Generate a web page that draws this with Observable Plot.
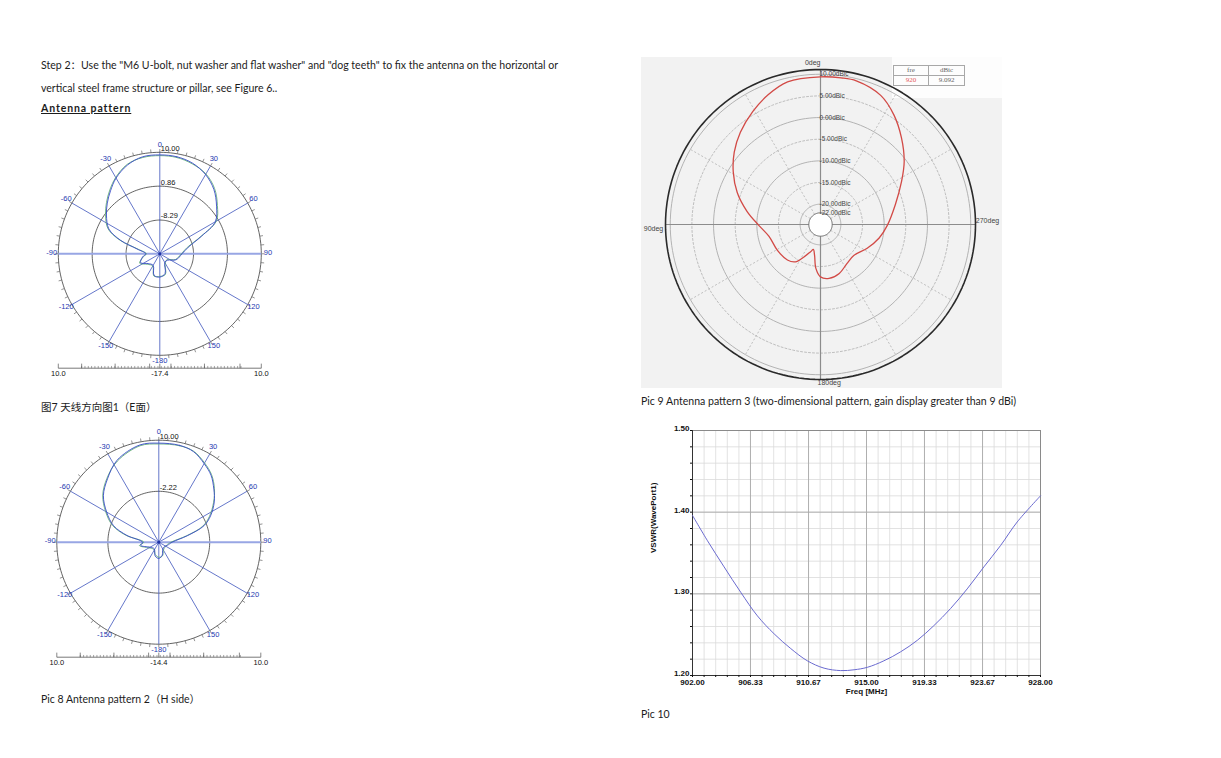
<!DOCTYPE html>
<html><head><meta charset="utf-8">
<script src="https://cdn.jsdelivr.net/npm/d3@7"></script>
<script src="https://cdn.jsdelivr.net/npm/@observablehq/plot@0.6"></script>
<style>
html,body{margin:0;padding:0;background:#fff}
body{width:1221px;height:758px;position:relative;overflow:hidden;font-family:Lato,"Noto Sans CJK SC",sans-serif;color:#1c1c1c}
.t{position:absolute;white-space:nowrap;line-height:12px}
.abs{position:absolute}
table.lg{border-collapse:collapse;font-family:"Liberation Serif",serif;font-size:7px;color:#666}
table.lg td{border:1px solid #a8a8a8;height:9px;padding:0;text-align:center;line-height:9px}
</style></head><body>
<script>
// ---------- texts ----------
const stepLine1 = 'Step 2：Use the "M6 U-bolt, nut washer and flat washer" and "dog teeth" to fix the antenna on the horizontal or';
const stepLine2 = 'vertical steel frame structure or pillar, see Figure 6..';
const heading = 'Antenna pattern';
const caption7 = '图7  天线方向图1（E面）';
const caption8 = 'Pic 8 Antenna pattern 2（H side）';
const caption9 = 'Pic 9 Antenna pattern 3 (two-dimensional pattern, gain display greater than 9 dBi)';
const caption10 = 'Pic 10';

// ---------- Pic 7 : E plane ----------
const spokeLabels = ["0","30","60","90","120","150","-180","-150","-120","-90","-60","-30"];
const e7Angles = [0,10,20,30,40,50,60,67,77,90,110,130,150,165,180,195,210,230,245,260,270,282,289,296,306,314,322,330,340,350];
const e7Blue  = [9.3,9.2,8.6,7.3,5.3,2.6,-0.1,-5.1,-9.5,-11.4,-12.7,-14.7,-14.7,-11.9,-11.1,-11.4,-13.8,-13.3,-11.7,-12.7,-13.6,-11.1,-6.2,-2.1,0.4,2.3,4.2,6.2,8.1,9.2];
const e7Green = [9.1,9.0,8.4,7.5,5.6,2.9,0.2,-5.3,-9.8,-11.6,-12.9,-14.9,-14.5,-11.6,-11.3,-11.2,-13.6,-13.0,-11.4,-12.9,-13.8,-11.4,-5.9,-1.8,0.7,2.6,4.5,6.4,8.3,9.0];
const e7Rings = [10, 0.86, -8.29];
const e7RingLabels = ["10.00","0.86","-8.29"];
const e7ScaleLabels = ["10.0","-17.4","10.0"];

// ---------- Pic 8 : H plane ----------
const h8Angles = [0,12,21,30,38,46,54,63,70,77,90,110,130,150,165,180,195,215,240,260,270,282,290,300,310,321,333,349];
const h8Blue  = [9.3,9.3,8.8,7.3,5.9,3.9,2.0,-0.5,-2.9,-7.3,-11.2,-12.2,-12.7,-12.5,-11.2,-10.5,-11.0,-12.5,-12.0,-10.0,-10.5,-6.6,-2.9,0.0,2.9,5.1,7.6,9.3];
const h8Green = [9.1,9.2,8.9,7.5,6.1,4.1,1.8,-0.8,-3.2,-7.6,-11.5,-12.4,-12.5,-12.2,-11.0,-10.8,-11.3,-12.3,-11.7,-9.7,-10.8,-6.3,-2.6,0.3,3.1,5.3,7.4,9.1];
const h8Rings = [10, -2.22];
const h8RingLabels = ["10.00","-2.22"];
const h8ScaleLabels = ["10.0","-14.4","10.0"];

// ---------- Pic 9 : 2D pattern (angle counter-clockwise from top) ----------
const p9Angles = [0,13,22,31,41,50,59,69,80,91,103,121,137,146,153,160,164,169,174,180,189,201,214,227,243,257,269,285,298,307,317,326,335,346,352];
const p9Gain   = [9.4,9.1,7.6,5.7,3.5,1.3,-1.2,-4.1,-7.5,-10.5,-12.5,-13.1,-13.5,-14.3,-16.3,-18.0,-18.7,-17.5,-14.5,-12.6,-12.1,-12.6,-13.8,-14.2,-12.6,-10.8,-9.3,-6.8,-3.5,-0.5,2.7,5.7,8.2,9.5,9.5];
const p9Rings = [10,5,0,-5,-10,-15,-20,-22];
const p9RingLabels = ["10.00dBic","5.00dBic","0.00dBic","-5.00dBic","-10.00dBic","-15.00dBic","-20.00dBic","-22.00dBic"];
const p9AxisLabels = ["0deg","90deg","180deg","270deg"];
const p9LegendHead = ["fre","dBic"];
const p9LegendRow = ["920","9.092"];

// ---------- Pic 10 : VSWR ----------
const freq = [902,903.12,904.36,905.6,906.85,908.1,909.34,910.58,911.83,913.07,914.07,915.06,916.3,917.55,918.79,920.03,921.28,922.52,923.77,925.01,926.26,928];
const vswr = [1.396,1.365,1.333,1.302,1.273,1.251,1.233,1.218,1.209,1.206,1.207,1.210,1.218,1.229,1.243,1.261,1.282,1.306,1.333,1.359,1.388,1.420];
const xTicks = [902,906.33,910.67,915,919.33,923.67,928];
const xTickLabels = ["902.00","906.33","910.67","915.00","919.33","923.67","928.00"];
const yTicks = [1.2,1.3,1.4,1.5];
const yTickLabels = ["1.20","1.30","1.40","1.50"];
const yTitle = "VSWR(WavePort1)";
const xTitle = "Freq [MHz]";

// ---------- helpers ----------
function put(el, left, top){ el.style.position="absolute"; el.style.left=left+"px"; el.style.top=top+"px"; document.body.appendChild(el); return el; }
function text(str, left, top, css){ const d=document.createElement("div"); d.className="t"; d.textContent=str; Object.assign(d.style, css||{}); return put(d,left,top); }
const rad = Math.PI/180;

function antenna(o){
  const {left, top, width, height, cx, cy, R, minDb, maxDb, rings, ringLabels, angles, blue, green, scaleLabels, barPx} = o;
  const norm = v => (v - minDb)/(maxDb - minDb);
  const P = (a, r) => [r*Math.sin(a*rad), r*Math.cos(a*rad)];
  const lx = cx-left, ly = cy-top;
  const barY = -barPx/R;
  const ringPts = rings.flatMap((v,i)=> d3.range(0,361,2).map(a=>({i, p:P(a,norm(v))})));
  const curve = arr => angles.map((a,i)=>P(a, norm(arr[i])));
  const spokes = d3.range(0,360,30);
  const rimTicks = d3.range(0,360,5);
  const barMinor = d3.range(-0.77, 0.80, 0.0327);
  const barMajor = [-1,-0.77,-0.44,-0.1,0,0.11,0.44,0.79,1];
  const svg = Plot.plot({
    width, height, margin:0,
    x:{domain:[-lx/R,(width-lx)/R], axis:null},
    y:{domain:[-(height-ly)/R, ly/R], axis:null},
    style:{fontFamily:"'Liberation Sans',Arial,sans-serif", fontSize:"7.5px", background:"transparent", overflow:"visible"},
    marks:[
      Plot.line(ringPts,{x:d=>d.p[0], y:d=>d.p[1], z:"i", stroke:"#3c3c3c", strokeWidth:0.8}),
      Plot.link(rimTicks,{x1:a=>P(a,1)[0], y1:a=>P(a,1)[1], x2:a=>P(a,1.032)[0], y2:a=>P(a,1.032)[1], stroke:"#666", strokeWidth:0.7}),
      Plot.link(spokes.filter(a=>a%180!==90),{x1:()=>0,y1:()=>0,x2:a=>P(a,1)[0],y2:a=>P(a,1)[1], stroke:"#5468c4", strokeWidth:0.9}),
      Plot.link([90],{x1:()=>-1,x2:()=>1,y1:()=>0,y2:()=>0, stroke:"#98a6e4", strokeWidth:2}),
      Plot.line(curve(green),{x:d=>d[0],y:d=>d[1],curve:"catmull-rom-closed",stroke:"#62ad78",strokeWidth:0.9}),
      Plot.line(curve(blue),{x:d=>d[0],y:d=>d[1],curve:"catmull-rom-closed",stroke:"#3a4cc8",strokeWidth:0.9}),
      Plot.dot([0],{x:()=>0,y:()=>0,r:1.6,fill:"#1f33a8"}),
      Plot.text(spokes,{x:a=>P(a,1.065)[0], y:a=>P(a,1.065)[1], text:(a,i)=>spokeLabels[i], fill:"#2438b0", dy:-1.5}),
      Plot.text(rings,{x:()=>0, y:v=>norm(v), text:(v,i)=>ringLabels[i], textAnchor:"start", dx:1, dy:-4, fill:"#111"}),
      Plot.link([0],{x1:()=>-1,x2:()=>1,y1:()=>barY,y2:()=>barY, stroke:"#555", strokeWidth:0.8}),
      Plot.link(barMinor,{x1:d=>d,x2:d=>d,y1:()=>barY,y2:()=>barY+0.022, stroke:"#666", strokeWidth:0.6}),
      Plot.link(barMajor,{x1:d=>d,x2:d=>d,y1:()=>barY,y2:()=>barY+0.045, stroke:"#555", strokeWidth:0.7}),
      Plot.text([-1,0,1],{x:d=>d, y:()=>barY, dy:5.5, text:(d,i)=>scaleLabels[i], fill:"#111"})
    ]
  });
  return put(svg, left, top);
}

// ---------- page text ----------
text(stepLine1, 41, 59, {fontSize:"10.55px"});
text(stepLine2, 41, 82, {fontSize:"10.55px"});
text(heading, 41, 102, {fontSize:"10.5px", fontWeight:"bold", textDecoration:"underline", letterSpacing:"0.9px"});
text(caption7, 41, 401, {fontSize:"10.5px"});
text(caption8, 41, 693, {fontSize:"10.5px"});
text(caption9, 641, 395, {fontSize:"10.55px"});
text(caption10, 641, 708, {fontSize:"10.5px"});

// ---------- Pic 7 & 8 ----------
antenna({left:40, top:140, width:240, height:245, cx:159.3, cy:253.3, R:101.5, minDb:-17.4, maxDb:10,
  rings:e7Rings, ringLabels:e7RingLabels, angles:e7Angles, blue:e7Blue, green:e7Green, scaleLabels:e7ScaleLabels, barPx:114.4});
antenna({left:40, top:428, width:240, height:245, cx:158.3, cy:541.7, R:102, minDb:-14.4, maxDb:10,
  rings:h8Rings, ringLabels:h8RingLabels, angles:h8Angles, blue:h8Blue, green:h8Green, scaleLabels:h8ScaleLabels, barPx:115});

// ---------- Pic 9 ----------
(function(){
  const left=641, top=57, width=361, height=331, cx=820, cy=224, Rout=155;
  const bg = document.createElement("div"); Object.assign(bg.style,{width:width+"px",height:height+"px",background:"#f2f2f2"}); put(bg,left,top);
  const wp = document.createElement("div"); Object.assign(wp.style,{width:"110px",height:"41px",background:"#fdfdfd"}); put(wp,892,57);
  const r9 = v => 11.7 + (v + 22) * 4.33;
  const Q = (a, r) => [-r*Math.sin(a*rad), r*Math.cos(a*rad)];
  const circ = (r) => d3.range(0,361,2).map(a=>Q(a,r));
  const solid = [10,0,-10,-20], dashed = [5,-5,-15];
  const ringPts = (vals) => vals.flatMap((v,i)=>circ(r9(v)).map(p=>({i,p})));
  const spokes = [30,60,120,150,210,240,300,330];
  const svg = Plot.plot({
    width, height, margin:0,
    x:{domain:[left-cx, left+width-cx], axis:null},
    y:{domain:[cy-(top+height), cy-top], axis:null},
    style:{fontFamily:"'Liberation Sans',Arial,sans-serif", fontSize:"6.5px", background:"transparent", overflow:"visible"},
    marks:[
      Plot.line(ringPts(solid),{x:d=>d.p[0],y:d=>d.p[1],z:"i",stroke:"#ababab",strokeWidth:0.9}),
      Plot.line(ringPts(dashed),{x:d=>d.p[0],y:d=>d.p[1],z:"i",stroke:"#b0b0b0",strokeWidth:0.8,strokeDasharray:"2,2"}),
      Plot.link(spokes,{x1:a=>Q(a,r9(-22))[0],y1:a=>Q(a,r9(-22))[1],x2:a=>Q(a,r9(10))[0],y2:a=>Q(a,r9(10))[1],stroke:"#b0b0b0",strokeWidth:0.8,strokeDasharray:"2,2"}),
      Plot.link([0,90],{x1:a=>Q(a,Rout)[0],y1:a=>Q(a,Rout)[1],x2:a=>Q(a,-Rout)[0],y2:a=>Q(a,-Rout)[1],stroke:"#8c8c8c",strokeWidth:1.2}),
      Plot.line(circ(r9(-22)),{x:d=>d[0],y:d=>d[1],stroke:"#666",strokeWidth:1,fill:"#fff"}),
      Plot.line(circ(Rout),{x:d=>d[0],y:d=>d[1],stroke:"#2a2a2a",strokeWidth:1.6}),
      Plot.text(p9Rings,{x:()=>0,y:v=>r9(v),text:(v,i)=>p9RingLabels[i],textAnchor:"start",dx:-1,fill:"#444"}),
      Plot.text([0],{x:()=>0,y:()=>Rout+7,text:()=>p9AxisLabels[0],textAnchor:"end",dx:0,fill:"#444",fontSize:7}),
      Plot.text([90],{x:a=>Q(a,Rout+12)[0],y:()=>0,text:()=>p9AxisLabels[1],dy:4,fill:"#444",fontSize:7}),
      Plot.text([180],{x:()=>0,y:()=>-Rout,text:()=>p9AxisLabels[2],textAnchor:"start",dx:-3,dy:3,fill:"#444",fontSize:7}),
      Plot.text([270],{x:a=>Q(a,Rout+12)[0],y:()=>0,text:()=>p9AxisLabels[3],dy:-4,fill:"#444",fontSize:7}),
      Plot.line(p9Angles.map((a,i)=>Q(a,r9(p9Gain[i]))),{x:d=>d[0],y:d=>d[1],curve:"catmull-rom-closed",stroke:"#d24a46",strokeWidth:1.3})
    ]
  });
  put(svg,left,top);
  const tb = document.createElement("table"); tb.className="lg";
  tb.innerHTML = `<tr><td style="width:34px">${p9LegendHead[0]}</td><td style="width:35px">${p9LegendHead[1]}</td></tr><tr><td style="color:#e65a5a">${p9LegendRow[0]}</td><td>${p9LegendRow[1]}</td></tr>`;
  put(tb, 893, 65);
})();

// ---------- Pic 10 ----------
(function(){
  const xMinor = d3.range(0,31).map(i=>902+i*26/30);
  const yMinor = d3.range(0,16).map(i=>1.2+i*0.02);
  const svg = Plot.plot({
    width:410, height:280, marginLeft:52, marginRight:10, marginTop:10, marginBottom:25,
    x:{domain:[902,928]}, y:{domain:[1.2,1.5]},
    style:{fontFamily:"'Liberation Sans',Arial,sans-serif", fontSize:"8px", color:"#111", background:"transparent", overflow:"visible"},
    marks:[
      Plot.ruleX(xMinor,{stroke:"#dadada",strokeWidth:0.8}),
      Plot.ruleY(yMinor,{stroke:"#dadada",strokeWidth:0.8}),
      Plot.ruleX(xTicks,{stroke:"#a9a9a9",strokeWidth:0.9}),
      Plot.ruleY(yTicks,{stroke:"#a9a9a9",strokeWidth:0.9}),
      Plot.frame({stroke:"#8a8a8a"}),
      Plot.ruleX([902],{stroke:"#333"}),
      Plot.ruleY([1.2],{stroke:"#333"}),
      Plot.axisX(xMinor,{tickSize:2,tickFormat:()=>"",label:null}),
      Plot.axisY(yMinor,{tickSize:2,tickFormat:()=>"",label:null}),
      Plot.axisX(xTicks,{tickSize:0,tickPadding:4,fontWeight:"bold",tickFormat:d=>xTickLabels[xTicks.indexOf(d)],label:null}),
      Plot.axisY(yTicks,{tickSize:0,tickPadding:3,fontWeight:"bold",tickFormat:d=>yTickLabels[yTicks.indexOf(d)],label:null, dy:-2}),
      Plot.line(freq.map((f,i)=>[f,vswr[i]]),{x:d=>d[0],y:d=>d[1],curve:"catmull-rom",stroke:"#6b6bd0",strokeWidth:1}),
      Plot.text([xTitle],{frameAnchor:"bottom",dy:18,fontWeight:"bold",text:d=>d}),
      Plot.text([yTitle],{frameAnchor:"left",dx:-39,rotate:-90,fontWeight:"bold",text:d=>d})
    ]
  });
  put(svg,640,420);
})();
</script>
</body></html>
